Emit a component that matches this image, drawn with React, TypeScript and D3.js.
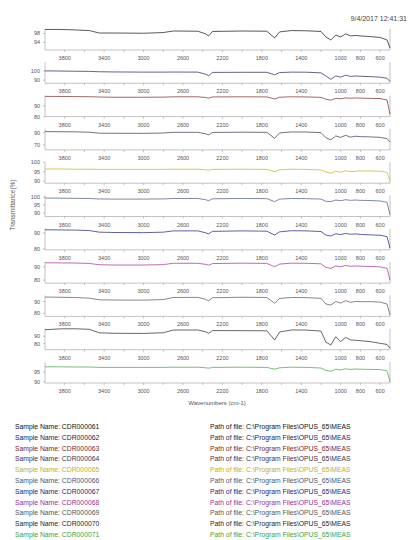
import React from "react";
import * as d3 from "d3";

// wavenumber grid (cm-1) shared by all spectra
const wavenumbers = [
  4000, 3850, 3700, 3550, 3450, 3300, 3000, 2800, 2700, 2450, 2370, 2340, 2300, 2000, 1750, 1670,
  1620, 1500, 1350, 1200, 1150, 1100, 1050, 1000, 950, 900, 850, 800, 700, 600, 530, 500,
];

// transmittance (%) per spectrum
const spec1 = [
  99.8, 99.8, 99.6, 99.3, 98.2, 98.2, 98.1, 98.4, 99.1, 99.0, 97.8, 96.9, 98.9, 99.1, 99.0, 96.0,
  98.7, 99.3, 99.2, 98.9, 96.4, 95.1, 97.3, 96.4, 97.8, 96.9, 97.1, 96.9, 96.6, 96.2, 95.1, 91.5,
];
const spec2 = [
  100.2, 100.0, 99.8, 99.6, 99.2, 99.0, 98.8, 98.8, 98.9, 98.8, 96.5, 94.8, 98.5, 98.6, 98.6, 95.8,
  98.3, 98.8, 98.7, 98.0, 94.5, 90.8, 94.6, 93.2, 95.4, 94.0, 94.5, 94.2, 93.8, 93.2, 92.0, 88.5,
];
const spec3 = [
  98.8, 98.7, 98.6, 98.5, 98.2, 98.0, 98.0, 98.1, 98.4, 98.4, 97.8, 97.2, 98.3, 98.4, 98.3, 96.4,
  98.0, 98.4, 98.3, 97.9, 96.2, 95.3, 97.0, 96.6, 97.4, 97.1, 97.3, 97.2, 97.0, 96.8, 95.5, 82.5,
];
const spec4 = [
  92.2, 92.0, 91.8, 91.2, 89.6, 89.4, 89.3, 89.8, 91.0, 91.0, 88.5, 86.7, 90.8, 91.2, 91.0, 81.0,
  90.0, 91.6, 91.5, 90.5, 82.0, 78.4, 85.0, 82.5, 86.0, 83.0, 84.5, 83.8, 83.4, 82.6, 80.5, 75.0,
];
const spec5 = [
  96.4, 96.4, 96.3, 96.3, 96.2, 96.2, 96.2, 96.2, 96.3, 96.3, 96.0, 95.8, 96.2, 96.3, 96.2, 95.0,
  96.0, 96.3, 96.2, 95.9, 94.8, 94.2, 95.3, 94.6, 95.5, 95.0, 95.2, 95.4, 95.4, 95.2, 94.6, 90.5,
];
const spec6 = [
  99.5, 99.4, 99.3, 99.2, 98.9, 98.8, 98.8, 98.9, 99.2, 99.2, 98.4, 97.8, 99.0, 99.2, 99.1, 97.2,
  98.8, 99.2, 99.1, 98.8, 97.4, 97.2, 98.2, 97.8, 98.4, 98.0, 98.2, 98.0, 97.9, 97.6, 96.8, 88.8,
];
const spec7 = [
  91.9, 91.8, 91.7, 91.4, 90.4, 90.2, 90.1, 90.4, 91.2, 91.2, 90.0, 89.3, 90.9, 91.2, 91.0, 88.6,
  90.6, 91.3, 91.2, 90.8, 88.6, 88.0, 89.4, 88.9, 89.6, 89.1, 89.3, 89.0, 88.7, 88.5, 87.6, 80.5,
];
const spec8 = [
  93.0, 92.9, 92.8, 92.5, 91.5, 91.3, 91.3, 91.6, 92.6, 92.6, 91.8, 91.2, 92.4, 92.7, 92.5, 90.0,
  92.0, 92.7, 92.6, 92.2, 89.5, 88.8, 90.6, 90.0, 91.0, 90.4, 90.6, 90.4, 90.2, 89.9, 88.8, 80.0,
];
const spec9 = [
  94.0, 93.8, 93.6, 93.0, 91.6, 91.4, 91.3, 91.8, 93.6, 93.7, 92.0, 90.8, 93.4, 93.8, 93.6, 88.6,
  92.8, 93.6, 93.5, 92.8, 88.0, 87.1, 90.2, 88.8, 90.8, 89.4, 90.2, 90.0, 90.0, 89.6, 88.0, 78.5,
];
const spec10 = [
  98.6, 99.8, 99.9, 99.2, 94.5, 93.9, 93.7, 94.6, 98.2, 98.3, 95.8, 93.9, 97.5, 97.4, 97.2, 85.0,
  95.6, 98.3, 98.2, 96.8, 82.0, 78.3, 89.3, 82.7, 88.5, 85.0, 84.6, 84.0, 82.8, 80.5, 79.0, 73.9,
];
const spec11 = [
  97.6, 97.6, 97.5, 97.5, 97.3, 97.3, 97.3, 97.3, 97.4, 97.4, 97.1, 96.9, 97.3, 97.4, 97.3, 96.4,
  97.1, 97.4, 97.3, 97.0, 95.8, 95.4, 96.4, 96.0, 96.6, 96.3, 96.5, 96.4, 96.3, 96.2, 95.6, 90.0,
];

const spectra = [spec1, spec2, spec3, spec4, spec5, spec6, spec7, spec8, spec9, spec10, spec11];

// per-panel y range and tick labels
const yRanges = [
  [90.6, 100], [86.4, 109.7], [80.4, 99.5], [61.7, 96.7], [88.9, 100], [87.7, 101.1],
  [79.4, 92.5], [77.7, 93.5], [77.3, 95.4], [72, 100], [89.5, 100],
];
const yTickValues = [
  [98, 94], [100, 90], [90, 80], [90, 70], [100, 95, 90], [100, 95, 90],
  [90, 80], [90, 80], [90, 80], [90, 80], [95, 90],
];

const xTickValues = [3800, 3400, 3000, 2600, 2200, 1800, 1400, 1000, 800, 600];
const xMinorTicks = [
  3800, 3600, 3400, 3200, 3000, 2800, 2600, 2400, 2200, 2000, 1800, 1600, 1400, 1200, 1000, 800, 600,
];

const sampleNames = [
  "CDR000061", "CDR000062", "CDR000063", "CDR000064", "CDR000065", "CDR000066",
  "CDR000067", "CDR000068", "CDR000069", "CDR000070", "CDR000071",
];
const filePath = "C:\\Program Files\\OPUS_65\\MEAS";
const dateStamp = "9/4/2017 12:41:31";

const colors = [
  "#111111", "#23234f", "#7a2626", "#3f2f4d", "#c2b020", "#4a5672",
  "#1c1c7a", "#9a2f96", "#555555", "#262626", "#3ea33e",
];

const font = "'Liberation Sans', Arial, sans-serif";

const App = () => {
  const width = 409;
  const height = 540;
  const left = 45;
  const right = 390;
  const firstBottom = 50;
  const pitch = 33.3;
  const panelH = 21;

  const x = d3.scaleLinear().domain([4000, 500]).range([left, right]);

  return (
    <svg
      width={width}
      height={height}
      style={{ position: "absolute", left: 0, top: 0, background: "#fff" }}
      fontFamily={font}
    >
      <text x={407} y={21} textAnchor="end" fontSize={7} fill="#444">
        {dateStamp}
      </text>

      {spectra.map((vals, i) => {
        const bottom = firstBottom + pitch * i;
        const top = bottom - panelH;
        const y = d3.scaleLinear().domain(yRanges[i]).range([bottom, top]);
        const line = d3
          .line<number>()
          .x((_, k) => x(wavenumbers[k]))
          .y((d) => y(d));
        return (
          <g key={i}>
            <path d={`M${left},${top}V${bottom}H${right}V${top}`} fill="none" stroke="#9a9a9a" strokeWidth={0.6} />
            {xMinorTicks.map((t) => (
              <line key={t} x1={x(t)} x2={x(t)} y1={bottom} y2={bottom + 2} stroke="#9a9a9a" strokeWidth={0.6} />
            ))}
            {xTickValues.map((t) => (
              <text key={t} x={x(t)} y={bottom + 10} textAnchor="middle" fontSize={5.5} fill="#555">
                {t}
              </text>
            ))}
            {yTickValues[i].map((t) => (
              <g key={t}>
                <line x1={left - 2} x2={left} y1={y(t)} y2={y(t)} stroke="#9a9a9a" strokeWidth={0.6} />
                <text x={left - 5} y={y(t) + 2} textAnchor="end" fontSize={5.5} fill="#555">
                  {t}
                </text>
              </g>
            ))}
            <path d={line(vals) || ""} fill="none" stroke={colors[i]} strokeWidth={0.7} />
          </g>
        );
      })}

      <text x={217} y={405} textAnchor="middle" fontSize={6} fill="#555">
        Wavenumbers (cm-1)
      </text>
      <text
        transform="translate(15,205) rotate(-90)"
        textAnchor="middle"
        fontSize={6.5}
        fill="#555"
      >
        Transmittance(%)
      </text>

      {sampleNames.map((name, i) => (
        <g key={name} fill={colors[i]} fontSize={6.8}>
          <text x={15} y={429 + i * 10.8}>
            Sample Name: {name}
          </text>
          <text x={210} y={429 + i * 10.8}>
            Path of file: {filePath}
          </text>
        </g>
      ))}
    </svg>
  );
};

export default App;
